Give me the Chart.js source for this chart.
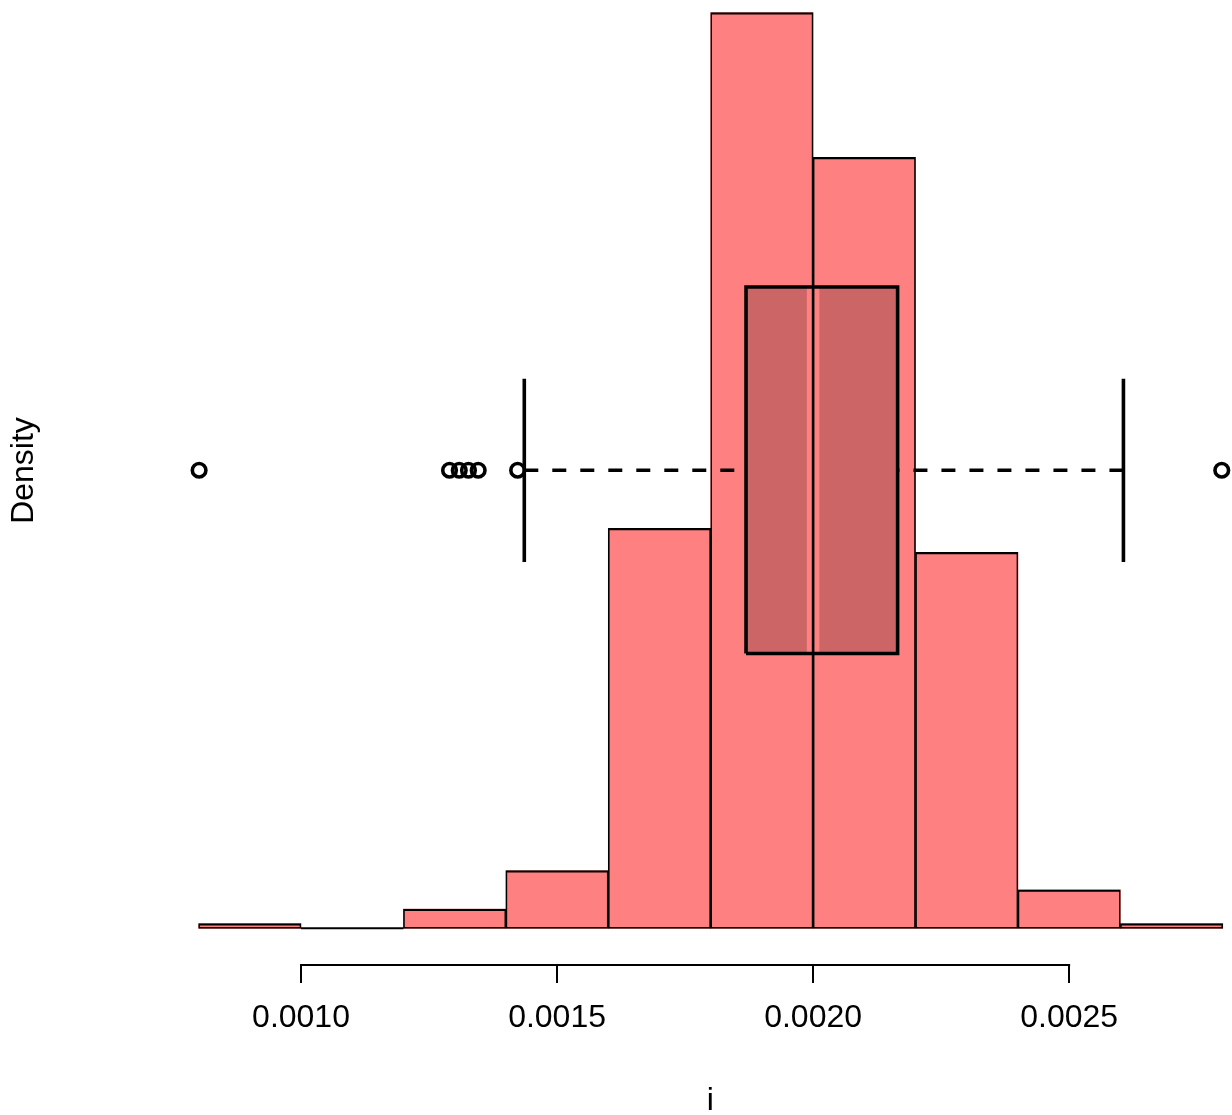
<!DOCTYPE html>
<html>
<head>
<meta charset="utf-8">
<script src="https://cdn.jsdelivr.net/npm/chart.js@4.4.0/dist/chart.umd.min.js"></script>
<style>
  html, body { margin: 0; padding: 0; background: #fff; overflow: hidden; }
  /* plot region starts a little above the window, as in the original */
  canvas { display: block; margin-top: -24px; }
</style>
</head>
<body>
<canvas id="hist" width="1232" height="1139"></canvas>
<script>
// histogram of i (density scale), bins of 0.0002
const binEdges = [0.0008, 0.0010, 0.0012, 0.0014, 0.0016, 0.0018, 0.0020, 0.0022, 0.0024, 0.0026, 0.0028];
const densities = [9.31, 0, 37.24, 111.73, 772.81, 1769.09, 1489.76, 726.26, 74.49, 9.31];

// boxplot overlay: lower whisker, Q1, median, Q3, upper whisker
const boxStats = [0.001436, 0.001869, 0.0020, 0.002165, 0.002606];
const outliers = [0.000801, 0.00129, 0.001309, 0.001327, 0.001346, 0.001423, 0.002798];

// where the box sits on the density axis
const boxAt = 885;
const boxHalf = 354;
const stapleHalf = 177;

const tickValues = [0.0010, 0.0015, 0.0020, 0.0025];

const FONT = 'Liberation Sans, Arial, Helvetica, sans-serif';
const BAR_FILL = '#ff8080';

const dMax = Math.max(...densities);
const centers = densities.map((d, i) => (binEdges[i] + binEdges[i + 1]) / 2);
const barData = densities.map((d, i) => ({ x: centers[i], y: d }));
const emptyBins = densities.map((d, i) => d === 0 ? i : -1).filter(i => i >= 0);

const [wLo, q1, med, q3, wHi] = boxStats;
const boxTop = boxAt + boxHalf;
const boxBot = boxAt - boxHalf;

var lineSet = function (points, opts) {
  return Object.assign({
    type: 'line',
    data: points.map(p => ({ x: p[0], y: p[1] })),
    borderColor: '#000',
    borderWidth: 3.6,
    pointRadius: 0,
    fill: false,
    tension: 0,
    borderCapStyle: 'butt',
  }, opts);
};

const datasets = [
  // bar fills
  {
    type: 'bar',
    data: barData,
    backgroundColor: BAR_FILL,
    borderWidth: 0,
    grouped: false,
    barPercentage: 1,
    categoryPercentage: 1,
    order: 7,
  },
  // box fill (20% black over the bars)
  lineSet([[q1, boxBot], [q3, boxBot], [q3, boxTop], [q1, boxTop], [q1, boxBot]], {
    borderWidth: 0,
    backgroundColor: 'rgba(0,0,0,0.2)',
    fill: 'shape',
    order: 6,
  }),
  // median band
  lineSet([[med, boxBot], [med, boxTop]], { borderColor: BAR_FILL, borderWidth: 12.5, order: 5 }),
  // bar outlines
  {
    type: 'bar',
    data: barData,
    backgroundColor: 'rgba(0,0,0,0)',
    borderColor: '#000',
    borderWidth: { top: 1.6, bottom: 1, left: 1, right: 1 },
    borderSkipped: false,
    grouped: false,
    barPercentage: 1,
    categoryPercentage: 1,
    order: 4,
  },
  // box border
  lineSet([[q1, boxBot], [q3, boxBot], [q3, boxTop], [q1, boxTop], [q1, boxBot]], {
    borderJoinStyle: 'miter',
    order: 3,
  }),
  // whiskers
  lineSet([[wLo, boxAt], [q1, boxAt]], { borderDash: [14, 14], order: 2 }),
  lineSet([[wHi, boxAt], [q3, boxAt]], { borderDash: [14, 14], order: 2 }),
  lineSet([[wLo, boxAt - stapleHalf], [wLo, boxAt + stapleHalf]], { order: 2 }),
  lineSet([[wHi, boxAt - stapleHalf], [wHi, boxAt + stapleHalf]], { order: 2 }),
  // outliers
  {
    type: 'line',
    data: outliers.map(v => ({ x: v, y: boxAt })),
    showLine: false,
    pointRadius: 6.8,
    pointBorderWidth: 3.6,
    pointBorderColor: '#000',
    pointBackgroundColor: 'rgba(0,0,0,0)',
    order: 1,
  },
];

// zero-height bins still get their baseline
emptyBins.forEach(i => {
  datasets.push(lineSet([[binEdges[i], 0], [binEdges[i + 1], 0]], { borderWidth: 2, order: 4 }));
});

// R style axis: line only from first to last tick
const axisLine = {
  id: 'axisLine',
  afterDraw(chart) {
    const x = chart.scales.x;
    const ctx = chart.ctx;
    ctx.save();
    ctx.strokeStyle = '#000';
    ctx.lineWidth = 2;
    ctx.lineCap = 'square';
    ctx.beginPath();
    ctx.moveTo(x.getPixelForValue(tickValues[0]), x.top);
    ctx.lineTo(x.getPixelForValue(tickValues[tickValues.length - 1]), x.top);
    ctx.stroke();
    ctx.restore();
  }
};

new Chart(document.getElementById('hist').getContext('2d'), {
  type: 'bar',
  data: { datasets: datasets },
  plugins: [axisLine],
  options: {
    responsive: false,
    animation: false,
    devicePixelRatio: 1,
    events: [],
    layout: { autoPadding: false, padding: 0 },
    plugins: {
      legend: { display: false },
      tooltip: { enabled: false },
    },
    scales: {
      x: {
        type: 'linear',
        offset: false,
        min: 0.00078,
        max: 0.002818,
        afterBuildTicks: (scale) => {
          scale.ticks = tickValues.map(v => ({ value: v }));
        },
        border: { display: false },
        grid: {
          offset: false,
          display: true,
          drawOnChartArea: false,
          drawTicks: true,
          tickLength: 18,
          lineWidth: 2,
          color: '#000',
        },
        ticks: {
          autoSkip: false,
          maxRotation: 0,
          padding: 15.6,
          color: '#000',
          font: { family: FONT, size: 32 },
          callback: (v) => Number(v).toFixed(4),
        },
        title: {
          display: true,
          text: 'i',
          color: '#000',
          font: { family: FONT, size: 32 },
          padding: { top: 29.7, bottom: -5.7 },
        },
      },
      y: {
        type: 'linear',
        min: -0.04 * dMax,
        max: 1.04 * dMax,
        border: { display: false },
        grid: { display: false, drawTicks: false },
        ticks: { display: false },
        title: {
          display: true,
          text: 'Density',
          color: '#000',
          font: { family: FONT, size: 32 },
          padding: { top: 5.1, bottom: 144.86 },
        },
      },
    },
  },
});
</script>
</body>
</html>
